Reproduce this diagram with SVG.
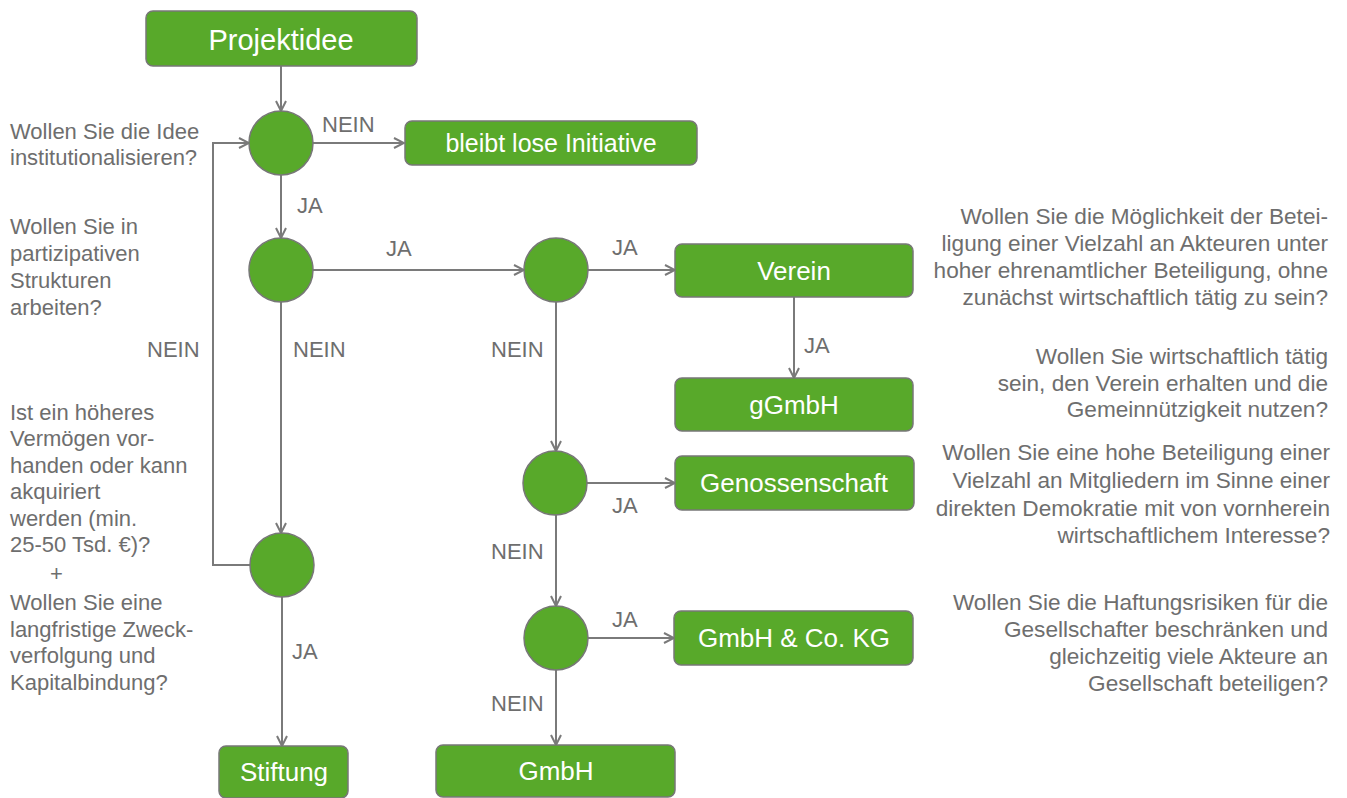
<svg xmlns="http://www.w3.org/2000/svg" width="1347" height="798" viewBox="0 0 1347 798">
<style>
.box{fill:#58a92a;stroke:#777;stroke-width:1.5}
.dec{fill:#58a92a;stroke:#777;stroke-width:1.5}
.bt{font-family:"Liberation Sans",Arial,sans-serif;font-size:26px;fill:#fff;text-anchor:middle}
.lbl{font-family:"Liberation Sans",Arial,sans-serif;font-size:22px;fill:#6e6e6e}
.q{font-family:"Liberation Sans",Arial,sans-serif;font-size:22px;fill:#6e6e6e}
.qr{font-family:"Liberation Sans",Arial,sans-serif;font-size:22.6px;fill:#6e6e6e;text-anchor:end}
.ln{fill:none;stroke:#7a7a7a;stroke-width:2}
</style>
<defs>
<marker id="arr" viewBox="0 0 12 12" refX="11" refY="6" markerWidth="12" markerHeight="12" markerUnits="userSpaceOnUse" orient="auto">
<path d="M1,1 L11,6 L1,11" fill="none" stroke="#7a7a7a" stroke-width="2"/>
</marker>
</defs>
<rect width="1347" height="798" fill="#fff"/>
<g id="connectors">
<path class="ln" d="M281,66 V111" marker-end="url(#arr)"/>
<path class="ln" d="M313,143 H404" marker-end="url(#arr)"/>
<path class="ln" d="M281,175 V238" marker-end="url(#arr)"/>
<path class="ln" d="M313,270 H524" marker-end="url(#arr)"/>
<path class="ln" d="M588,270 H675" marker-end="url(#arr)"/>
<path class="ln" d="M794,297 V378" marker-end="url(#arr)"/>
<path class="ln" d="M281,302 V533" marker-end="url(#arr)"/>
<path class="ln" d="M282,597 V746" marker-end="url(#arr)"/>
<path class="ln" d="M250,565 H213 V143 H249" marker-end="url(#arr)"/>
<path class="ln" d="M556,302 V451" marker-end="url(#arr)"/>
<path class="ln" d="M587,483 H675" marker-end="url(#arr)"/>
<path class="ln" d="M556,515 V606" marker-end="url(#arr)"/>
<path class="ln" d="M588,638 H674" marker-end="url(#arr)"/>
<path class="ln" d="M556,670 V745" marker-end="url(#arr)"/>
<text class="lbl" x="322" y="132">NEIN</text>
<text class="lbl" x="297" y="213">JA</text>
<text class="lbl" x="386" y="256">JA</text>
<text class="lbl" x="612" y="255">JA</text>
<text class="lbl" x="804" y="353">JA</text>
<text class="lbl" x="147" y="357">NEIN</text>
<text class="lbl" x="293" y="357">NEIN</text>
<text class="lbl" x="491" y="357">NEIN</text>
<text class="lbl" x="612" y="513">JA</text>
<text class="lbl" x="491" y="559">NEIN</text>
<text class="lbl" x="612" y="627">JA</text>
<text class="lbl" x="292" y="659">JA</text>
<text class="lbl" x="491" y="711">NEIN</text>
</g>
<g id="projektidee"><rect class="box" x="146" y="11" width="271" height="55" rx="7"/><text class="bt" x="281" y="50" style="font-size:29px">Projektidee</text></g>
<g id="bleibt"><rect class="box" x="405" y="121" width="292" height="44" rx="7"/><text class="bt" x="551" y="152" style="font-size:25px">bleibt lose Initiative</text></g>
<g id="verein"><rect class="box" x="675" y="244" width="238" height="53" rx="7"/><text class="bt" x="794" y="280">Verein</text></g>
<g id="ggmbh"><rect class="box" x="675" y="378" width="238" height="53" rx="7"/><text class="bt" x="794" y="414">gGmbH</text></g>
<g id="genossenschaft"><rect class="box" x="675" y="456" width="239" height="54" rx="7"/><text class="bt" x="794" y="492">Genossenschaft</text></g>
<g id="gmbhcokg"><rect class="box" x="674" y="611" width="239" height="54" rx="7"/><text class="bt" x="794" y="647">GmbH &amp; Co. KG</text></g>
<g id="stiftung"><rect class="box" x="219" y="746" width="129" height="52" rx="7"/><text class="bt" x="284" y="781">Stiftung</text></g>
<g id="gmbh"><rect class="box" x="436" y="745" width="239" height="52" rx="7"/><text class="bt" x="556" y="780">GmbH</text></g>
<g id="d1"><circle class="dec" cx="281" cy="143" r="32"/></g>
<g id="d2"><circle class="dec" cx="281" cy="270" r="32"/></g>
<g id="d3"><circle class="dec" cx="556" cy="270" r="32"/></g>
<g id="d4"><circle class="dec" cx="282" cy="565" r="32"/></g>
<g id="d5"><circle class="dec" cx="555" cy="483" r="32"/></g>
<g id="d6"><circle class="dec" cx="556" cy="638" r="32"/></g>
<g id="q-left">
<text class="q" x="10" y="139">Wollen Sie die Idee</text>
<text class="q" x="10" y="165">institutionalisieren?</text>
<text class="q" x="10" y="234">Wollen Sie in</text>
<text class="q" x="10" y="261">partizipativen</text>
<text class="q" x="10" y="288">Strukturen</text>
<text class="q" x="10" y="315">arbeiten?</text>
<text class="q" x="10" y="420">Ist ein höheres</text>
<text class="q" x="10" y="446">Vermögen vor-</text>
<text class="q" x="10" y="473">handen oder kann</text>
<text class="q" x="10" y="499">akquiriert</text>
<text class="q" x="10" y="526">werden (min.</text>
<text class="q" x="10" y="552">25-50 Tsd. €)?</text>
<text class="q" x="50" y="581">+</text>
<text class="q" x="10" y="610">Wollen Sie eine</text>
<text class="q" x="10" y="637">langfristige Zweck-</text>
<text class="q" x="10" y="663">verfolgung und</text>
<text class="q" x="10" y="690">Kapitalbindung?</text>
</g>
<g id="q-right">
<text class="qr" x="1328" y="224">Wollen Sie die Möglichkeit der Betei-</text>
<text class="qr" x="1328" y="251">ligung einer Vielzahl an Akteuren unter</text>
<text class="qr" x="1328" y="278">hoher ehrenamtlicher Beteiligung, ohne</text>
<text class="qr" x="1328" y="305">zunächst wirtschaftlich tätig zu sein?</text>
<text class="qr" x="1328" y="364">Wollen Sie wirtschaftlich tätig</text>
<text class="qr" x="1328" y="391">sein, den Verein erhalten und die</text>
<text class="qr" x="1328" y="417">Gemeinnützigkeit nutzen?</text>
<text class="qr" x="1330" y="460">Wollen Sie eine hohe Beteiligung einer</text>
<text class="qr" x="1330" y="488">Vielzahl an Mitgliedern im Sinne einer</text>
<text class="qr" x="1330" y="516">direkten Demokratie mit von vornherein</text>
<text class="qr" x="1330" y="543">wirtschaftlichem Interesse?</text>
<text class="qr" x="1328" y="610">Wollen Sie die Haftungsrisiken für die</text>
<text class="qr" x="1328" y="637">Gesellschafter beschränken und</text>
<text class="qr" x="1328" y="664">gleichzeitig viele Akteure an</text>
<text class="qr" x="1328" y="691">Gesellschaft beteiligen?</text>
</g>
</svg>
